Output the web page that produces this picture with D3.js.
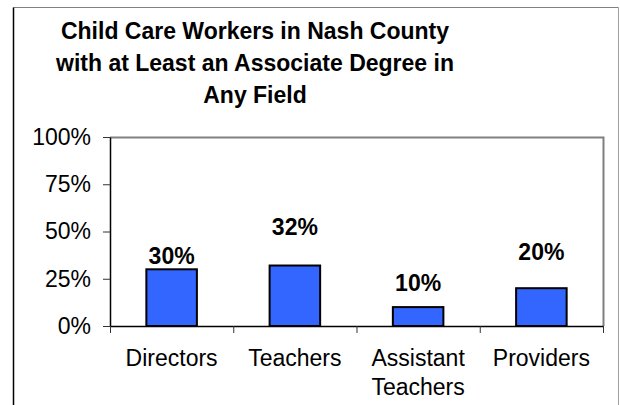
<!DOCTYPE html>
<html>
<head>
<meta charset="utf-8">
<script src="https://cdn.jsdelivr.net/npm/d3@7"></script>
<style>
  body { margin: 0; background: #fff; }
  svg text { font-family: "Liberation Sans", Arial, sans-serif; fill: #000; }
</style>
</head>
<body>
<div id="chart"></div>
<script>
// chart data
const categories = ["Directors", "Teachers", "Assistant Teachers", "Providers"];
const shares = [0.30, 0.32, 0.10, 0.20];
// where the value labels sit, in data units (as in the original)
const labelLevels = [0.328, 0.48, 0.185, 0.35];
const yTicks = [0, 0.25, 0.5, 0.75, 1];
const titleLines = ["Child Care Workers in Nash County",
                    "with at Least an Associate Degree in",
                    "Any Field"];

const WIDTH = 620;
const HEIGHT = 405;
const PLOT = { left: 110, right: 603, top: 137, bottom: 326 };

const svg = d3.select("#chart")
  .append("svg")
    .attr("width", WIDTH)
    .attr("height", HEIGHT);

// outer frame
svg.append("line")
  .attr("x1", 13.5).attr("y1", 7.5).attr("x2", 618.5).attr("y2", 7.5)
  .attr("stroke", "#808080").attr("stroke-width", 1);
svg.append("line")
  .attr("x1", 618.5).attr("y1", 7.5).attr("x2", 618.5).attr("y2", HEIGHT)
  .attr("stroke", "#a0a0a0").attr("stroke-width", 1);
svg.append("line")
  .attr("x1", 13.5).attr("y1", 7.5).attr("x2", 13.5).attr("y2", HEIGHT)
  .attr("stroke", "#000").attr("stroke-width", 1.5);

// title
svg.append("text")
  .attr("x", 255)
  .attr("text-anchor", "middle")
  .attr("font-size", 23)
  .attr("font-weight", "bold")
  .selectAll("tspan")
  .data(titleLines)
  .join("tspan")
    .attr("x", 255)
    .attr("y", (d, i) => 39 + i * 32)
    .text(d => d);

// scales
const x = d3.scaleBand()
  .domain(categories)
  .range([PLOT.left, PLOT.right])
  .paddingInner(0.59)
  .paddingOuter(0.295);

const xEdge = d3.scaleLinear()
  .domain([0, categories.length])
  .range([PLOT.left, PLOT.right]);

const y = d3.scaleLinear()
  .domain([0, 1])
  .range([PLOT.bottom, PLOT.top]);

// plot frame (top and right, gray)
svg.append("path")
  .attr("d", `M${PLOT.left},${PLOT.top + 0.5}H${PLOT.right + 0.5}V${PLOT.bottom}`)
  .attr("fill", "none")
  .attr("stroke", "#808080")
  .attr("stroke-width", 2);

// y axis
const yAxis = svg.append("g")
  .attr("transform", `translate(${PLOT.left},0)`)
  .call(d3.axisLeft(y)
    .tickValues(yTicks)
    .tickFormat(d3.format(".0%"))
    .tickSize(7)
    .tickSizeOuter(0)
    .tickPadding(12));
yAxis.select(".domain").attr("stroke", "#000").attr("stroke-width", 1.5);
yAxis.selectAll(".tick line").attr("stroke", "#333");
yAxis.selectAll(".tick text")
  .attr("font-size", 23)
  .attr("font-family", "'Liberation Sans', Arial, sans-serif")
  .attr("fill", "#000");

// bars
svg.selectAll(".bar")
  .data(categories)
  .join("rect")
    .attr("class", "bar")
    .attr("x", d => x(d))
    .attr("y", (d, i) => y(shares[i]))
    .attr("width", x.bandwidth())
    .attr("height", (d, i) => y(0) - y(shares[i]))
    .attr("fill", "#3366ff")
    .attr("stroke", "#000")
    .attr("stroke-width", 2);

// x axis with ticks between categories
const xAxis = svg.append("g")
  .attr("transform", `translate(0,${PLOT.bottom})`)
  .call(d3.axisBottom(xEdge)
    .tickValues(d3.range(categories.length + 1))
    .tickFormat("")
    .tickSize(7)
    .tickSizeOuter(0));
xAxis.select(".domain").attr("stroke", "#000").attr("stroke-width", 1.5);
xAxis.selectAll(".tick line").attr("stroke", "#333");

// category labels
svg.selectAll(".cat")
  .data(categories)
  .join("text")
    .attr("class", "cat")
    .attr("text-anchor", "middle")
    .attr("font-size", 23)
    .each(function(d) {
      const cx = x(d) + x.bandwidth() / 2;
      d3.select(this).selectAll("tspan")
        .data(d.split(" "))
        .join("tspan")
          .attr("x", cx)
          .attr("y", (w, i) => 366 + i * 29)
          .text(w => w);
    });

// value labels
svg.selectAll(".val")
  .data(categories)
  .join("text")
    .attr("class", "val")
    .attr("x", d => x(d) + x.bandwidth() / 2)
    .attr("y", (d, i) => y(labelLevels[i]))
    .attr("text-anchor", "middle")
    .attr("font-size", 23)
    .attr("font-weight", "bold")
    .text((d, i) => d3.format(".0%")(shares[i]));
</script>
</body>
</html>
